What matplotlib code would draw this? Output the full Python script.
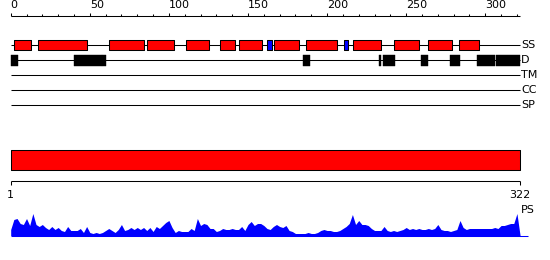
import matplotlib
matplotlib.use('Agg')
import matplotlib.pyplot as plt
import numpy as np

# Sequence length and feature tracks (residue ranges)
seq_len = 322
helices = [(2, 13), (17.5, 48), (62, 84), (86, 103.5), (110.5, 125.5), (132, 141.5),
           (144, 159), (166.5, 182), (186.5, 206.5), (216.5, 234), (242, 258),
           (264, 279), (283.5, 296)]
strands = [(162, 165), (210.5, 213.5)]
disorder = [(0, 4.5), (40, 57.5), (58, 60.3), (184.6, 189.2), (233, 234),
            (235.2, 243), (259.4, 264), (277.7, 284), (294.6, 306.1), (306.8, 322)]
track_labels = ['SS', 'D', 'TM', 'CC', 'SP']

# PS profile, sampled every 2 residues
ps_pos = np.arange(0, 324, 2)
ps_val = [6, 16, 17, 12, 11, 17, 10, 22, 11, 9, 11, 8, 6, 9, 6, 8, 5, 4, 9, 5,
          5, 5, 7, 3, 9, 3, 2, 3, 2, 3, 5, 7, 5, 3, 6, 11, 5, 6, 8, 6,
          8, 6, 8, 5, 8, 4, 9, 7, 10, 13, 15, 8, 3, 5, 4, 4, 4, 7, 5, 17,
          10, 12, 11, 7, 7, 4, 5, 7, 6, 6, 7, 6, 6, 9, 5, 11, 14, 10, 12, 12,
          10, 7, 6, 9, 11, 9, 8, 10, 5, 4, 2, 2, 2, 2, 3, 2, 2, 3, 5, 6,
          5, 5, 4, 4, 5, 7, 9, 12, 21, 11, 15, 11, 11, 10, 7, 5, 5, 5, 9, 5,
          4, 5, 4, 5, 6, 8, 6, 7, 6, 7, 6, 6, 7, 6, 7, 11, 6, 5, 5, 4,
          5, 6, 15, 8, 6, 7, 7, 7, 7, 7, 7, 7, 7, 8, 7, 10, 10, 11, 12, 12,
          22, 0]

px_per_res = 1.582
left_px = 10.7

fig = plt.figure(figsize=(5.5, 2.6), dpi=100)
ax = fig.add_axes([0, 0, 1, 1])
ax.set_xlim(-left_px / px_per_res, (550 - left_px) / px_per_res)
ax.set_ylim(260, 0)
ax.axis('off')

lw = 0.75
font = dict(family='DejaVu Sans', fontsize=8)

# Top ruler
ax.hlines(15.5, 0, seq_len, color='black', lw=lw)
for t in range(0, seq_len, 10):
    top = 12.5 if t % 50 == 0 else 13.5
    ax.vlines(t, top, 15.5, color='black', lw=lw)
    if t % 50 == 0:
        ax.text(t, 10.5, str(t), ha='left', va='bottom', **font)

# Tracks
track_y = [45, 60, 75, 90, 105]
for y, lab in zip(track_y, track_labels):
    ax.hlines(y, 0, seq_len, color='black', lw=lw)
    ax.text(seq_len + 0.5, y, lab, ha='left', va='center', **font)

ax.broken_barh([(a, b - a) for a, b in helices], (40, 10),
               facecolor='#ff0000', edgecolor='black', lw=lw, zorder=3)
ax.broken_barh([(a, b - a) for a, b in strands], (40, 10),
               facecolor='#0000ff', edgecolor='black', lw=lw, zorder=3)
ax.broken_barh([(a, b - a) for a, b in disorder], (55, 11),
               facecolor='black', edgecolor='black', lw=0.3, zorder=3)

# Whole-sequence bar
ax.broken_barh([(0, seq_len)], (150, 20), facecolor='#ff0000',
               edgecolor='black', lw=lw)

# Bottom ruler
ax.hlines(180.5, 0, seq_len, color='black', lw=lw)
ax.vlines([0, seq_len], 180.5, 184.5, color='black', lw=lw)
ax.text(0, 190.5, '1', ha='center', va='top', **font)
ax.text(seq_len, 190.5, str(seq_len), ha='center', va='top', **font)

# PS profile
base = 235.5
ps = np.array(ps_val, dtype=float)
ax.fill_between(ps_pos, base, base - ps, color='#0000ff', lw=0)
ax.hlines(base, 0, seq_len + 5, color='#0000ff', lw=lw)
ax.text(seq_len + 0.5, 210, 'PS', ha='left', va='center', **font)

fig.savefig('out.png', dpi=100)
